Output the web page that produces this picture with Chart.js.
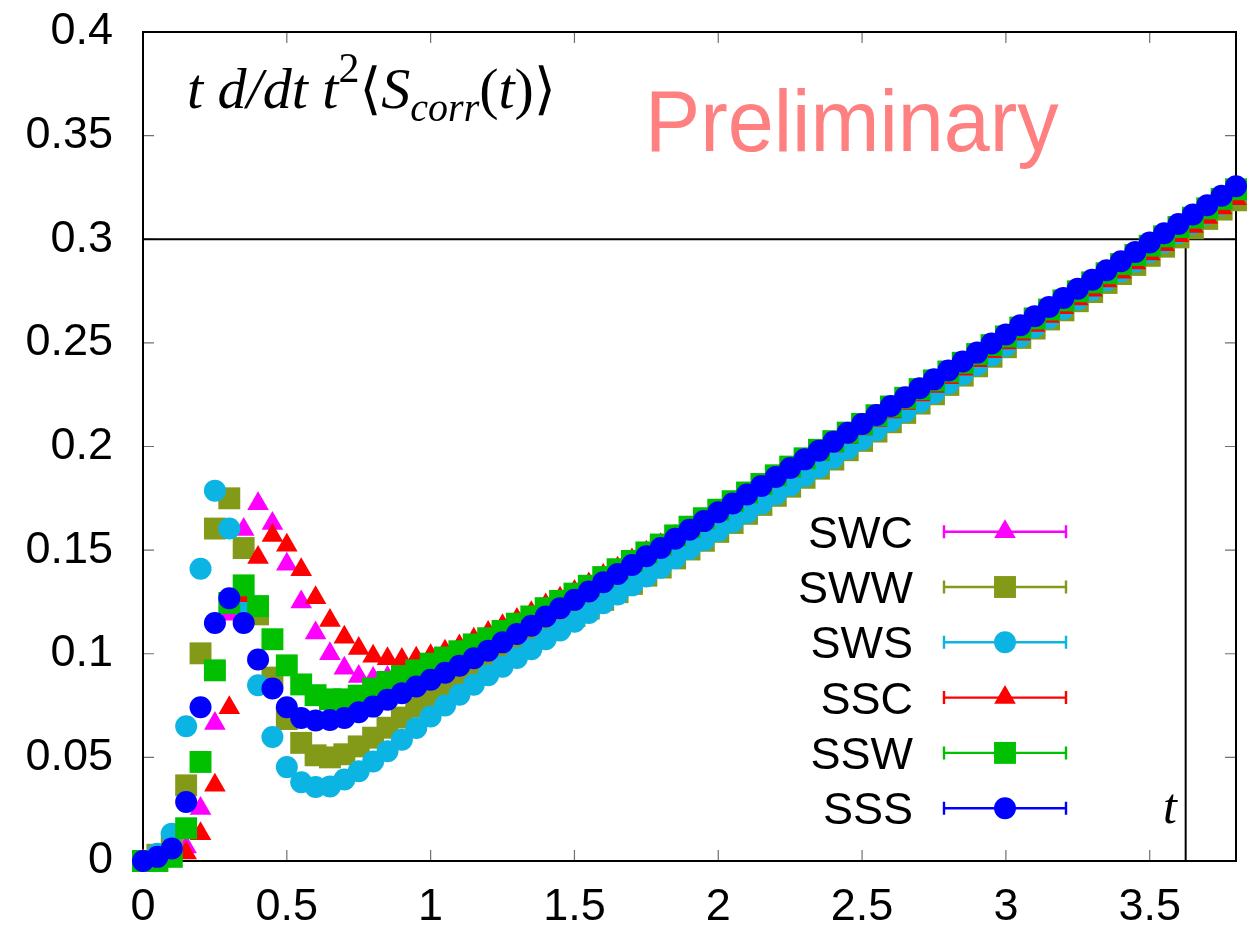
<!DOCTYPE html>
<html>
<head>
<meta charset="utf-8">
<script src="https://cdn.jsdelivr.net/npm/chart.js@4.4.0/dist/chart.umd.min.js"></script>
<style>
  html, body { margin: 0; padding: 0; background: #fff; }
  #chart { display: block; }
</style>
</head>
<body>
<canvas id="chart" width="1253" height="933" style="width:1253px;height:933px"></canvas>
<script>
// flow time t (x axis)
const tValues = [
  0, 0.05, 0.1, 0.15, 0.2, 0.25, 0.3, 0.35, 0.4, 0.45, 0.5, 0.55, 0.6, 0.65, 0.7, 0.75, 0.8, 0.85, 0.9, 0.95,
  1, 1.05, 1.1, 1.15, 1.2, 1.25, 1.3, 1.35, 1.4, 1.45, 1.5, 1.55, 1.6, 1.65, 1.7, 1.75, 1.8, 1.85, 1.9, 1.95,
  2, 2.05, 2.1, 2.15, 2.2, 2.25, 2.3, 2.35, 2.4, 2.45, 2.5, 2.55, 2.6, 2.65, 2.7, 2.75, 2.8, 2.85, 2.9, 2.95,
  3, 3.05, 3.1, 3.15, 3.2, 3.25, 3.3, 3.35, 3.4, 3.45, 3.5, 3.55, 3.6, 3.65, 3.7, 3.75, 3.8
];

const swc = [
  0, 0, 0.001, 0.0068, 0.0253, 0.0663, 0.119, 0.160, 0.1724, 0.1628, 0.1432, 0.125, 0.110, 0.100, 0.093, 0.089, 0.088, 0.0885, 0.0895, 0.0905,
  0.092, 0.0945, 0.0975, 0.1005, 0.104, 0.1073, 0.1105, 0.1143, 0.1183, 0.1221, 0.1258, 0.1296, 0.1338, 0.1376, 0.1417, 0.1457, 0.1496, 0.1539, 0.1581, 0.1622,
  0.1664, 0.1705, 0.1746, 0.1786, 0.1827, 0.1867, 0.1907, 0.1946, 0.1987, 0.2028, 0.2069, 0.211, 0.2151, 0.2192, 0.2233, 0.2274, 0.2316, 0.2357, 0.2398, 0.244,
  0.2482, 0.2525, 0.2567, 0.261, 0.2652, 0.2695, 0.2737, 0.278, 0.2823, 0.2867, 0.291, 0.2954, 0.2998, 0.3042, 0.3086, 0.3131, 0.3176
];
const sww = [
  0, 0.003, 0.009, 0.0365, 0.1002, 0.1604, 0.175, 0.151, 0.119, 0.0885, 0.0685, 0.057, 0.051, 0.050, 0.0515, 0.0553, 0.0595, 0.0643, 0.0692, 0.0745,
  0.0795, 0.0843, 0.0887, 0.0928, 0.0968, 0.1005, 0.104, 0.1073, 0.1112, 0.1147, 0.1182, 0.1218, 0.126, 0.1297, 0.1337, 0.1377, 0.1416, 0.146, 0.1503, 0.1545,
  0.1588, 0.1631, 0.1675, 0.1718, 0.1762, 0.1806, 0.1849, 0.1893, 0.1937, 0.1982, 0.2027, 0.2072, 0.2117, 0.2162, 0.2207, 0.2252, 0.2297, 0.2342, 0.2387, 0.2433,
  0.2479, 0.2524, 0.2569, 0.2613, 0.2657, 0.2701, 0.2745, 0.2789, 0.2832, 0.2876, 0.292, 0.2964, 0.3009, 0.3053, 0.3098, 0.3143, 0.3188
];
const sws = [
  0, 0.0035, 0.0132, 0.065, 0.141, 0.1787, 0.1604, 0.1225, 0.0848, 0.0598, 0.0453, 0.038, 0.0357, 0.036, 0.0393, 0.0433, 0.048, 0.053, 0.0585, 0.0642,
  0.0697, 0.075, 0.0802, 0.085, 0.0896, 0.0937, 0.098, 0.1022, 0.107, 0.1112, 0.1155, 0.1197, 0.1244, 0.1286, 0.133, 0.1373, 0.1415, 0.1461, 0.1505, 0.1548,
  0.1593, 0.1636, 0.168, 0.1724, 0.1768, 0.1812, 0.1856, 0.1899, 0.1944, 0.1988, 0.2033, 0.2078, 0.2123, 0.2168, 0.2213, 0.2258, 0.2303, 0.2348, 0.2393, 0.2439,
  0.2485, 0.253, 0.2575, 0.262, 0.2665, 0.271, 0.2755, 0.2801, 0.2846, 0.2892, 0.2938, 0.2984, 0.303, 0.3076, 0.3122, 0.3168, 0.3215
];
const ssc = [
  0, 0, 0.0005, 0.0038, 0.0132, 0.0365, 0.074, 0.128, 0.1465, 0.157, 0.1523, 0.1405, 0.127, 0.116, 0.108, 0.1025, 0.0988, 0.0976, 0.0972, 0.0978,
  0.099, 0.1012, 0.1037, 0.107, 0.1103, 0.1135, 0.1165, 0.1198, 0.1235, 0.1268, 0.130, 0.1336, 0.1377, 0.1413, 0.1452, 0.149, 0.1526, 0.1567, 0.1606, 0.1644,
  0.1683, 0.1722, 0.1762, 0.1802, 0.1843, 0.1883, 0.1923, 0.1962, 0.2003, 0.2044, 0.2085, 0.2126, 0.2167, 0.2208, 0.2249, 0.229, 0.2332, 0.2373, 0.2414, 0.2457,
  0.2499, 0.2542, 0.2584, 0.2627, 0.2669, 0.2712, 0.2754, 0.2798, 0.2841, 0.2885, 0.2929, 0.2973, 0.3017, 0.3061, 0.3105, 0.3151, 0.3196
];
const ssw = [
  0, 0, 0.002, 0.0158, 0.0478, 0.092, 0.1245, 0.133, 0.123, 0.107, 0.0944, 0.0852, 0.080, 0.078, 0.078, 0.0798, 0.0832, 0.0864, 0.0892, 0.092,
  0.0952, 0.0982, 0.1012, 0.1045, 0.1075, 0.111, 0.1145, 0.118, 0.122, 0.1255, 0.129, 0.1328, 0.137, 0.1408, 0.1448, 0.1489, 0.1527, 0.1571, 0.1613, 0.1654,
  0.1695, 0.1736, 0.1778, 0.1819, 0.1861, 0.1903, 0.1943, 0.1984, 0.2026, 0.2067, 0.2109, 0.2151, 0.2193, 0.2235, 0.2277, 0.2319, 0.2362, 0.2404, 0.2446, 0.2489,
  0.2531, 0.2574, 0.2618, 0.2661, 0.2705, 0.2749, 0.2792, 0.2836, 0.288, 0.2924, 0.2969, 0.3014, 0.3059, 0.3104, 0.3149, 0.3195, 0.3241
];
const sss = [
  0, 0.002, 0.006, 0.0285, 0.0742, 0.1148, 0.1268, 0.1148, 0.0972, 0.0832, 0.0742, 0.069, 0.0678, 0.068, 0.069, 0.0718, 0.0745, 0.0778, 0.081, 0.0842,
  0.0875, 0.0908, 0.0942, 0.0978, 0.1015, 0.1055, 0.1095, 0.1135, 0.118, 0.122, 0.126, 0.130, 0.1345, 0.1385, 0.1428, 0.147, 0.151, 0.1555, 0.1598, 0.164,
  0.1683, 0.1725, 0.1768, 0.181, 0.1853, 0.1896, 0.1938, 0.198, 0.2023, 0.2066, 0.2109, 0.2152, 0.2195, 0.2238, 0.2281, 0.2324, 0.2367, 0.241, 0.2453, 0.2497,
  0.2541, 0.2585, 0.2629, 0.2673, 0.2717, 0.2761, 0.2805, 0.285, 0.2894, 0.2939, 0.2984, 0.3029, 0.3074, 0.3119, 0.3164, 0.321, 0.3256
];

const seriesNames = ["SWC", "SWW", "SWS", "SSC", "SSW", "SSS"];

const xTicks = [0, 0.5, 1, 1.5, 2, 2.5, 3, 3.5];
const xTickLabels = ["0", "0.5", "1", "1.5", "2", "2.5", "3", "3.5"];
const yTicks = [0, 0.05, 0.1, 0.15, 0.2, 0.25, 0.3, 0.35, 0.4];
const yTickLabels = ["0", "0.05", "0.1", "0.15", "0.2", "0.25", "0.3", "0.35", "0.4"];

// reference lines: horizontal level and vertical marker in t
const refLevel = 0.3;
const tMarker = 3.625;

const styles = [
  { color: "#ff00ff", shape: "triangle", r: 12.5 },
  { color: "#839a18", shape: "rect", r: 15.5 },
  { color: "#0cb4e4", shape: "circle", r: 11 },
  { color: "#ff0000", shape: "triangle", r: 12.5 },
  { color: "#00c000", shape: "rect", r: 15.5 },
  { color: "#0000ff", shape: "circle", r: 11 },
];

const allSeries = [swc, sww, sws, ssc, ssw, sss];

const datasets = allSeries.map((vals, i) => ({
  label: seriesNames[i],
  data: tValues.map((t, j) => ({ x: t, y: vals[j] })),
  pointStyle: styles[i].shape,
  pointRadius: styles[i].r,
  pointHoverRadius: styles[i].r,
  pointBorderWidth: 0,
  backgroundColor: styles[i].color,
  borderColor: styles[i].color,
  showLine: false,
  clip: false,
  order: 6 - i, // last series ends up on top, like gnuplot
}));

const SANS = '"Liberation Sans", Arial, Helvetica, sans-serif';
const SERIF = '"Liberation Serif", "DejaVu Serif", "Times New Roman", serif';

function drawMarker(ctx, shape, r, x, y) {
  ctx.beginPath();
  if (shape === "circle") {
    ctx.arc(x, y, r, 0, Math.PI * 2);
  } else if (shape === "rect") {
    const s = r * Math.SQRT1_2;
    ctx.rect(x - s, y - s, 2 * s, 2 * s);
  } else {
    ctx.moveTo(x, y - r);
    ctx.lineTo(x + r * Math.sin(2 * Math.PI / 3), y + r / 2);
    ctx.lineTo(x - r * Math.sin(2 * Math.PI / 3), y + r / 2);
    ctx.closePath();
  }
  ctx.fill();
}

const framePlugin = {
  id: "frame",
  beforeDatasetsDraw(chart) {
    const { ctx, chartArea: a } = chart;
    const x = chart.scales.x, y = chart.scales.y;
    ctx.save();

    // inward ticks, mirrored on all four sides
    ctx.strokeStyle = "#707070";
    ctx.lineWidth = 1.2;
    ctx.beginPath();
    xTicks.forEach(v => {
      const px = x.getPixelForValue(v);
      ctx.moveTo(px, a.bottom); ctx.lineTo(px, a.bottom - 11);
      ctx.moveTo(px, a.top); ctx.lineTo(px, a.top + 11);
    });
    yTicks.forEach(v => {
      const py = y.getPixelForValue(v);
      ctx.moveTo(a.left, py); ctx.lineTo(a.left + 11, py);
      ctx.moveTo(a.right, py); ctx.lineTo(a.right - 11, py);
    });
    ctx.stroke();

    // reference lines
    ctx.strokeStyle = "#000";
    ctx.lineWidth = 2;
    const yRef = y.getPixelForValue(refLevel);
    const xRef = x.getPixelForValue(tMarker);
    ctx.beginPath();
    ctx.moveTo(a.left, yRef); ctx.lineTo(a.right, yRef);
    ctx.moveTo(xRef, yRef); ctx.lineTo(xRef, a.bottom);
    ctx.stroke();

    // plot border
    ctx.strokeRect(a.left, a.top, a.right - a.left, a.bottom - a.top);
    ctx.restore();
  },
  afterDatasetsDraw(chart) {
    const { ctx } = chart;
    ctx.save();

    // legend, gnuplot style: name, then marker on an error-bar sample
    const rowTop = 531.7, rowStep = 55.3;
    seriesNames.forEach((name, i) => {
      const yy = rowTop + i * rowStep;
      ctx.fillStyle = "#000";
      ctx.font = "45px " + SANS;
      ctx.textAlign = "right";
      ctx.textBaseline = "alphabetic";
      ctx.fillText(name, 913, yy + 16);

      ctx.strokeStyle = styles[i].color;
      ctx.lineWidth = 2.4;
      ctx.beginPath();
      ctx.moveTo(943, yy); ctx.lineTo(1067, yy);
      ctx.moveTo(944, yy - 6.5); ctx.lineTo(944, yy + 6.5);
      ctx.moveTo(1066, yy - 6.5); ctx.lineTo(1066, yy + 6.5);
      ctx.stroke();
      ctx.fillStyle = styles[i].color;
      drawMarker(ctx, styles[i].shape, styles[i].r, 1005, yy);
    });

    // observable label
    ctx.fillStyle = "#000";
    ctx.textAlign = "left";
    ctx.textBaseline = "alphabetic";
    ctx.save();
    ctx.translate(187, 108);
    let cx = 0;
    const parts = [
      { s: "t d/dt t", f: "italic 58px " + SERIF, dy: 0 },
      { s: "2", f: "42px " + SERIF, dy: -26 },
      { s: "\u27E8", f: "56px " + SERIF, dy: 0 },
      { s: "S", f: "italic 58px " + SERIF, dy: 0 },
      { s: "corr", f: "italic 40px " + SERIF, dy: 13 },
      { s: "(", f: "58px " + SERIF, dy: 0 },
      { s: "t", f: "italic 58px " + SERIF, dy: 0 },
      { s: ")", f: "58px " + SERIF, dy: 0 },
      { s: "\u27E9", f: "56px " + SERIF, dy: 0 },
    ];
    parts.forEach(p => {
      ctx.font = p.f;
      ctx.fillText(p.s, cx, p.dy);
      cx += ctx.measureText(p.s).width;
    });
    ctx.restore();

    // watermark
    ctx.save();
    ctx.fillStyle = "#ff8080";
    ctx.font = "88px " + SANS;
    ctx.translate(645, 151);
    ctx.scale(0.94, 1);
    ctx.fillText("Preliminary", 0, 0);
    ctx.restore();

    // t marker label
    ctx.font = "italic 50px " + SERIF;
    ctx.textAlign = "right";
    ctx.fillText("t", 1177, 823);
    ctx.restore();
  }
};

const tickFont = { family: SANS, size: 45 };

new Chart(document.getElementById("chart"), {
  type: "scatter",
  data: { datasets },
  options: {
    responsive: false,
    animation: false,
    devicePixelRatio: 1,
    layout: { padding: { top: 32, right: 17, left: 0, bottom: 0 } },
    plugins: {
      legend: { display: false },
      tooltip: { enabled: false },
    },
    scales: {
      x: {
        type: "linear",
        min: 0,
        max: 3.8,
        grid: { display: false, drawTicks: false },
        border: { display: false },
        afterBuildTicks: s => { s.ticks = xTicks.map(v => ({ value: v })); },
        afterFit: s => { s.height = 72; },
        ticks: {
          padding: 20,
          color: "#000",
          font: tickFont,
          maxRotation: 0,
          autoSkip: false,
          callback: v => xTickLabels[xTicks.indexOf(v)],
        },
      },
      y: {
        type: "linear",
        min: 0,
        max: 0.4,
        grid: { display: false, drawTicks: false },
        border: { display: false },
        afterBuildTicks: s => { s.ticks = yTicks.map(v => ({ value: v })); },
        afterFit: s => { s.width = 143; s.paddingTop = 0; s.paddingBottom = 0; },
        ticks: {
          padding: 30,
          color: "#000",
          font: tickFont,
          autoSkip: false,
          callback: v => yTickLabels[yTicks.indexOf(v)],
        },
      },
    },
  },
  plugins: [framePlugin],
});
</script>
</body>
</html>
